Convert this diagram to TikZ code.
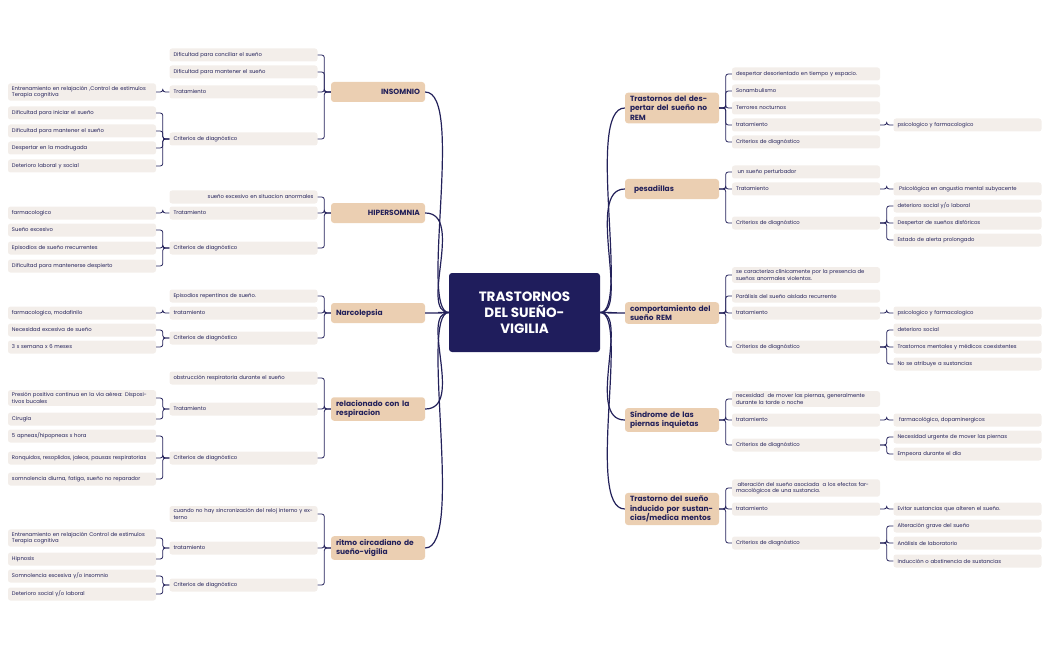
\documentclass[tikz,border=0pt]{standalone}
\usepackage{fontspec}
\setmainfont{Poppins}
\begin{document}
\definecolor{ink}{HTML}{23215A}
\definecolor{boxc}{HTML}{F3EEEA}
\definecolor{mainc}{HTML}{EBCFB2}
\definecolor{navy}{HTML}{1F1D5C}
\begin{tikzpicture}[x=1pt,y=-1pt,
 leaf/.style={rectangle,rounded corners=2.5pt,fill=boxc,text=ink,font=\fontsize{5.3}{6.6}\selectfont,text width=140pt,inner xsep=4pt,inner ysep=2.5pt,minimum height=13pt,align=left},
 main/.style={rectangle,rounded corners=3pt,fill=mainc,text=ink,font=\fontsize{7.5}{9.5}\selectfont\bfseries,text width=84pt,inner xsep=5pt,inner ysep=3pt,minimum height=20pt,align=left},
 conn/.style={draw=ink,line width=0.8pt,rounded corners=2.5pt},
 trunk/.style={draw=ink,line width=1.2pt}]
\useasboundingbox (0,0) rectangle (1050,650);
\newcommand\cL[2]{\draw[conn] (#1.west) -- ++(-6.5,0) |- (#2.east);}
\newcommand\cR[2]{\draw[conn] (#1.east) -- ++(6.5,0) |- (#2.west);}
\def\ML{378}\def\MR{672}\def\KL{243.5}\def\KR{806}\def\LL{82}\def\LR{967.5}
% center
\node[rectangle,rounded corners=3pt,fill=navy,text=white,font=\fontsize{13.5}{16}\selectfont\bfseries,minimum width=151pt,minimum height=79pt,align=center] (C) at (524.5,312.5) {TRASTORNOS\\DEL SUEÑO-\\VIGILIA};
% ===== LEFT =====
\node[main,align=right] (A) at (\ML,92) {INSOMNIO};
\node[leaf] (A1) at (\KL,55) {Dificultad para conciliar el sueño};
\node[leaf] (A2) at (\KL,72) {Dificultad para mantener el sueño};
\node[leaf] (A3) at (\KL,92) {Tratamiento};
\node[leaf] (A4) at (\KL,139) {Criterios de diagnóstico};
\node[leaf] (A31) at (\LL,92) {Entrenamiento en relajación ,Control de estimulos Terapia cognitiva};
\node[leaf] (A41) at (\LL,113) {Dificultad para iniciar el sueño};
\node[leaf] (A42) at (\LL,131) {Dificultad para mantener el sueño};
\node[leaf] (A43) at (\LL,148) {Despertar en la madrugada};
\node[leaf] (A44) at (\LL,166) {Deterioro laboral y social};
\foreach \k in {A1,A2,A3,A4}{\cL{A}{\k}}
\cL{A3}{A31}
\foreach \k in {A41,A42,A43,A44}{\cL{A4}{\k}}

\node[main,align=right] (B) at (\ML,213) {HIPERSOMNIA};
\node[leaf,align=right] (B1) at (\KL,197) {sueño excesivo en situacion anormales};
\node[leaf] (B2) at (\KL,213) {Tratamiento};
\node[leaf] (B3) at (\KL,248) {Criterios de diagnóstico};
\node[leaf] (B21) at (\LL,213) {farmacologico};
\node[leaf] (B31) at (\LL,230) {Sueño excesivo};
\node[leaf] (B32) at (\LL,248) {Episodios de sueño rrecurrentes};
\node[leaf] (B33) at (\LL,266) {Dificultad para mantenerse despierto};
\foreach \k in {B1,B2,B3}{\cL{B}{\k}}
\cL{B2}{B21}
\foreach \k in {B31,B32,B33}{\cL{B3}{\k}}

\node[main] (N) at (\ML,313) {Narcolepsia};
\node[leaf] (N1) at (\KL,296) {Episodios repentinos de sueño.};
\node[leaf] (N2) at (\KL,313) {tratamiento};
\node[leaf] (N3) at (\KL,338) {Criterios de diagnóstico};
\node[leaf] (N21) at (\LL,313) {farmacologico, modafinilo};
\node[leaf] (N31) at (\LL,330) {Necesidad excesiva de sueño};
\node[leaf] (N32) at (\LL,347) {3 x semana x 6 meses};
\foreach \k in {N1,N2,N3}{\cL{N}{\k}}
\cL{N2}{N21}
\foreach \k in {N31,N32}{\cL{N3}{\k}}

\node[main] (R) at (\ML,409) {relacionado con la respiracion};
\node[leaf] (R1) at (\KL,378) {obstrucción respiratoria durante el sueño};
\node[leaf] (R2) at (\KL,409) {Tratamiento};
\node[leaf] (R3) at (\KL,458) {Criterios de diagnóstico};
\node[leaf] (R21) at (\LL,398) {Presión positiva continua en la vía aérea: Dispositivos bucales};
\node[leaf] (R22) at (\LL,419) {Cirugía};
\node[leaf] (R31) at (\LL,436) {5 apneas/hipopneas x hora};
\node[leaf] (R32) at (\LL,458) {Ronquidos, resoplidos, jaleos, pausas respiratorias};
\node[leaf] (R33) at (\LL,479) {somnolencia diurna, fatiga, sueño no reparador};
\foreach \k in {R1,R2,R3}{\cL{R}{\k}}
\foreach \k in {R21,R22}{\cL{R2}{\k}}
\foreach \k in {R31,R32,R33}{\cL{R3}{\k}}

\node[main] (T) at (\ML,548) {ritmo circadiano de sueño-vigilia};
\node[leaf] (T1) at (\KL,514) {cuando no hay sincronización del reloj interno y externo};
\node[leaf] (T2) at (\KL,548) {tratamiento};
\node[leaf] (T3) at (\KL,585) {Criterios de diagnóstico};
\node[leaf] (T21) at (\LL,538) {Entrenamiento en relajación Control de estimulos Terapia cognitiva};
\node[leaf] (T22) at (\LL,559) {Hipnosis};
\node[leaf] (T31) at (\LL,576) {Somnolencia excesiva y/o insomnio};
\node[leaf] (T32) at (\LL,594) {Deterioro social y/o laboral};
\foreach \k in {T1,T2,T3}{\cL{T}{\k}}
\foreach \k in {T21,T22}{\cL{T2}{\k}}
\foreach \k in {T31,T32}{\cL{T3}{\k}}

% ===== RIGHT =====
\node[main] (D) at (\MR,108) {Trastornos del despertar del sueño no REM};
\node[leaf] (D1) at (\KR,74) {despertar desorientado en tiempo y espacio.};
\node[leaf] (D2) at (\KR,91) {Sonambulismo};
\node[leaf] (D3) at (\KR,108) {Terrores nocturnos};
\node[leaf] (D4) at (\KR,125) {tratamiento};
\node[leaf] (D5) at (\KR,142) {Criterios de diagnóstico};
\node[leaf] (D41) at (\LR,125) {psicologico y farmacologico};
\foreach \k in {D1,D2,D3,D4,D5}{\cR{D}{\k}}
\cR{D4}{D41}

\node[main] (P) at (\MR,189) {\hspace*{4pt}pesadillas};
\node[leaf] (P1) at (\KR,172) {\hspace*{1.5pt}un sueño perturbador};
\node[leaf] (P2) at (\KR,189) {Tratamiento};
\node[leaf] (P3) at (\KR,223) {Criterios de diagnóstico};
\node[leaf] (P21) at (\LR,189) {\hspace*{1.5pt}Psicológica en angustia mental subyacente};
\node[leaf] (P31) at (\LR,206) {deterioro social y/o laboral};
\node[leaf] (P32) at (\LR,223) {Despertar de sueños disfóricos};
\node[leaf] (P33) at (\LR,240) {Estado de alerta prolongado};
\foreach \k in {P1,P2,P3}{\cR{P}{\k}}
\cR{P2}{P21}
\foreach \k in {P31,P32,P33}{\cR{P3}{\k}}

\node[main] (E) at (\MR,313) {comportamiento del sueño REM};
\node[leaf] (E1) at (\KR,275) {se caracteriza clínicamente por la presencia de sueños anormales violentos.};
\node[leaf] (E2) at (\KR,296) {Parálisis del sueño aislada recurrente};
\node[leaf] (E3) at (\KR,313) {tratamiento};
\node[leaf] (E4) at (\KR,347) {Criterios de diagnóstico};
\node[leaf] (E31) at (\LR,313) {psicologico y farmacologico};
\node[leaf] (E41) at (\LR,330) {deterioro social};
\node[leaf] (E42) at (\LR,347) {Trastornos mentales y médicos coexistentes};
\node[leaf] (E43) at (\LR,364) {No se atribuye a sustancias};
\foreach \k in {E1,E2,E3,E4}{\cR{E}{\k}}
\cR{E3}{E31}
\foreach \k in {E41,E42,E43}{\cR{E4}{\k}}

\node[main] (S) at (\MR,420) {Síndrome de las piernas inquietas};
\node[leaf] (S1) at (\KR,399) {necesidad \ de mover las piernas, generalmente durante la tarde o noche};
\node[leaf] (S2) at (\KR,420) {tratamiento};
\node[leaf] (S3) at (\KR,445) {Criterios de diagnóstico};
\node[leaf] (S21) at (\LR,420) {\hspace*{1.5pt}farmacológico, dopaminergicos};
\node[leaf] (S31) at (\LR,437) {Necesidad urgente de mover las piernas};
\node[leaf] (S32) at (\LR,454) {Empeora durante el día};
\foreach \k in {S1,S2,S3}{\cR{S}{\k}}
\cR{S2}{S21}
\foreach \k in {S31,S32}{\cR{S3}{\k}}

\node[main] (U) at (\MR,509) {Trastorno del sueño inducido por sustancias/medica mentos};
\node[leaf] (U1) at (\KR,488) {\hspace*{1.5pt}alteración del sueño asociada \ a los efectos farmacológicos de una sustancia.};
\node[leaf] (U2) at (\KR,509) {tratamiento};
\node[leaf] (U3) at (\KR,543) {Criterios de diagnóstico};
\node[leaf] (U21) at (\LR,509) {Evitar sustancias que alteren el sueño.};
\node[leaf] (U31) at (\LR,526) {Alteración grave del sueño};
\node[leaf] (U32) at (\LR,543) {Análisis de laboratorio};
\node[leaf] (U33) at (\LR,561) {Inducción o abstinencia de sustancias};
\foreach \k in {U1,U2,U3}{\cR{U}{\k}}
\cR{U2}{U21}
\foreach \k in {U31,U32,U33}{\cR{U3}{\k}}

% trunks
\foreach \m in {A,B,N,R,T}{\draw[trunk] (C.west) .. controls +(-30,0) and +(40,0) .. (\m.east);}
\foreach \m in {D,P,E,S,U}{\draw[trunk] (C.east) .. controls +(30,0) and +(-40,0) .. (\m.west);}
\end{tikzpicture}
\end{document}
